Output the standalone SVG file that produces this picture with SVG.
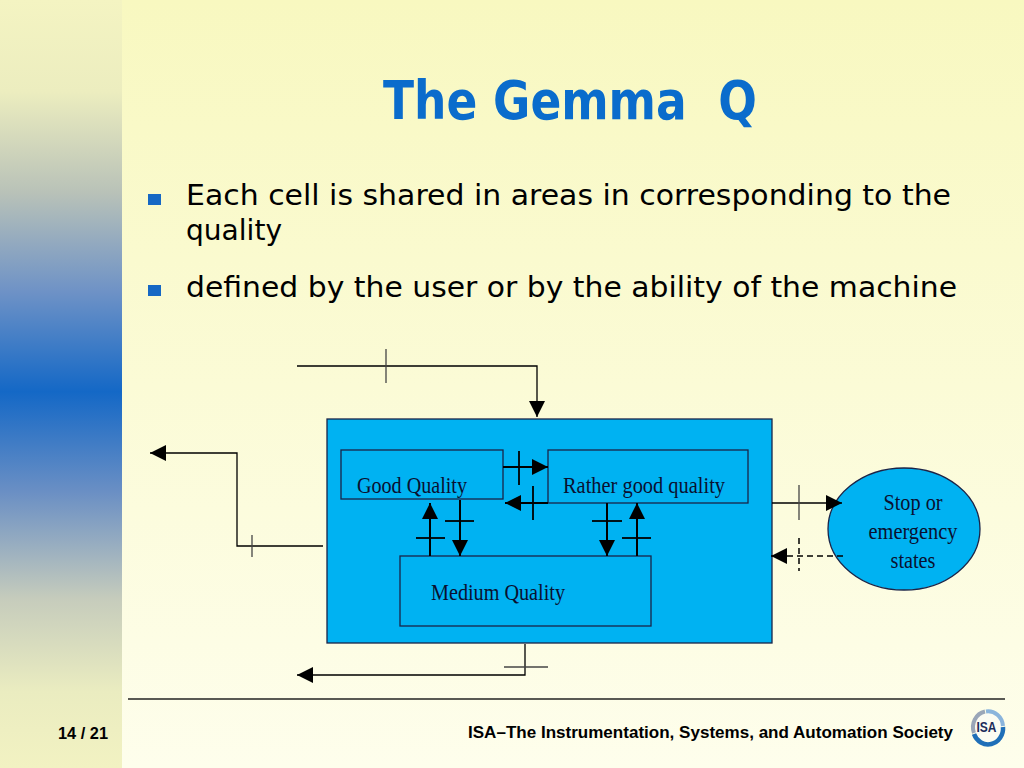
<svg xmlns="http://www.w3.org/2000/svg" width="1024" height="768" viewBox="0 0 1024 768">
<defs>
  <linearGradient id="bg" x1="0" y1="0" x2="0" y2="1">
    <stop offset="0" stop-color="#f8f8c0"/>
    <stop offset="1" stop-color="#fefeec"/>
  </linearGradient>
  <linearGradient id="strip" x1="0" y1="0" x2="0" y2="1">
    <stop offset="0" stop-color="#f4f4c2"/>
    <stop offset="0.12" stop-color="#ecedbf"/>
    <stop offset="0.25" stop-color="#b9c2b8"/>
    <stop offset="0.38" stop-color="#6e92c6"/>
    <stop offset="0.51" stop-color="#1468c6"/>
    <stop offset="0.64" stop-color="#6a8fc4"/>
    <stop offset="0.78" stop-color="#c6ccbc"/>
    <stop offset="0.9" stop-color="#eaecc0"/>
    <stop offset="1" stop-color="#f2f2c2"/>
  </linearGradient>
  <marker id="ah" viewBox="0 0 16 16" refX="16" refY="8" markerWidth="16" markerHeight="16" markerUnits="userSpaceOnUse" orient="auto">
    <path d="M0,0 L16,8 L0,16 z" fill="#000"/>
  </marker>
</defs>
<style>
  .title{font-family:"DejaVu Sans","Liberation Sans",sans-serif;font-weight:bold;font-size:53px;fill:#0a6ccc;white-space:pre}
  .bul{font-family:"DejaVu Sans","Liberation Sans",sans-serif;font-size:29px;fill:#000}
  .lbl{font-family:"Liberation Serif","Times New Roman",serif;font-size:23px;fill:#0a1030}
  .foot{font-family:"Liberation Sans",Arial,sans-serif;font-weight:bold;font-size:16.5px;fill:#000}
  .box{fill:#00b2f2;stroke:#1a2448;stroke-width:1.3}
  .wire{fill:none;stroke:#000;stroke-width:1.3}
  .in{fill:none;stroke:#000;stroke-width:2}
  .tick{fill:none;stroke:#444;stroke-width:1.3}
  .tk{fill:none;stroke:#000;stroke-width:1.8}
  .dash{fill:none;stroke:#000;stroke-width:1.5;stroke-dasharray:6,4}
</style>

<rect x="0" y="0" width="1024" height="768" fill="url(#bg)"/>
<rect x="0" y="0" width="122" height="768" fill="url(#strip)"/>

<text class="title" x="383" y="119" textLength="374" lengthAdjust="spacingAndGlyphs" xml:space="preserve">The Gemma  Q</text>

<rect x="148" y="194" width="13" height="11" fill="#1668c4"/>
<text class="bul" x="186" y="205" textLength="765" lengthAdjust="spacingAndGlyphs">Each cell is shared in areas in corresponding to the</text>
<text class="bul" x="186" y="240" textLength="96" lengthAdjust="spacingAndGlyphs">quality</text>
<rect x="148" y="285" width="13" height="11" fill="#1668c4"/>
<text class="bul" x="186" y="297" textLength="771" lengthAdjust="spacingAndGlyphs">defined by the user or by the ability of the machine</text>

<g id="main">
  <rect class="box" x="327" y="419" width="445" height="224"/>
</g>
<g id="good">
  <rect class="box" x="341" y="450" width="162" height="49"/>
  <text class="lbl" x="357" y="493" textLength="110" lengthAdjust="spacingAndGlyphs">Good Quality</text>
</g>
<g id="rather">
  <rect class="box" x="548" y="450" width="200" height="53"/>
  <text class="lbl" x="563" y="493" textLength="162" lengthAdjust="spacingAndGlyphs">Rather good quality</text>
</g>
<g id="medium">
  <rect class="box" x="400" y="556" width="251" height="70"/>
  <text class="lbl" x="431" y="600" textLength="134" lengthAdjust="spacingAndGlyphs">Medium Quality</text>
</g>
<g id="stop">
  <ellipse class="box" cx="904" cy="529" rx="76" ry="61"/>
  <text class="lbl" x="913" y="510" text-anchor="middle" textLength="59" lengthAdjust="spacingAndGlyphs">Stop or</text>
  <text class="lbl" x="913" y="539" text-anchor="middle" textLength="89" lengthAdjust="spacingAndGlyphs">emergency</text>
  <text class="lbl" x="913" y="568" text-anchor="middle" textLength="45" lengthAdjust="spacingAndGlyphs">states</text>
</g>

<g id="connectors">
  <path class="wire" d="M297,366 H537 V417" marker-end="url(#ah)"/>
  <line class="tick" x1="386" y1="349" x2="386" y2="383"/>
  <path class="wire" d="M323,546 H237 V453 H150" marker-end="url(#ah)"/>
  <line class="tick" x1="252" y1="535" x2="252" y2="557"/>
  <path class="wire" d="M525,644 V675 H297" marker-end="url(#ah)"/>
  <line class="tick" x1="504" y1="667" x2="548" y2="667"/>
  <path class="in" d="M503,467 H548" marker-end="url(#ah)"/>
  <line class="tk" x1="519" y1="451" x2="519" y2="485"/>
  <path class="in" d="M548,503 H505" marker-end="url(#ah)"/>
  <line class="tk" x1="533" y1="486" x2="533" y2="520"/>
  <path class="in" d="M430,556 V503" marker-end="url(#ah)"/>
  <line class="tk" x1="416" y1="538" x2="445" y2="538"/>
  <path class="in" d="M460,500 V556" marker-end="url(#ah)"/>
  <line class="tk" x1="445" y1="521" x2="474" y2="521"/>
  <path class="in" d="M607,503 V556" marker-end="url(#ah)"/>
  <line class="tk" x1="592" y1="521" x2="622" y2="521"/>
  <path class="in" d="M637,556 V503" marker-end="url(#ah)"/>
  <line class="tk" x1="622" y1="538" x2="651" y2="538"/>
  <path class="wire" d="M772,503 H842" marker-end="url(#ah)"/>
  <line class="tick" x1="799" y1="485" x2="799" y2="520"/>
  <path class="dash" d="M843,556 H771" marker-end="url(#ah)"/>
  <line class="dash" x1="799" y1="538" x2="799" y2="571"/>
</g>

<line x1="128" y1="699" x2="1005" y2="699" stroke="#222" stroke-width="1.5"/>
<text class="foot" x="58" y="739" textLength="50" lengthAdjust="spacingAndGlyphs">14 / 21</text>
<text class="foot" x="468" y="738" textLength="485" lengthAdjust="spacingAndGlyphs">ISA–The Instrumentation, Systems, and Automation Society</text>

<g id="logo">
  <ellipse cx="988" cy="727" rx="14" ry="14.5" fill="#fbfbf2"/>
  <path d="M974,733 A15,16 0 0 1 985,711.5" fill="none" stroke="#9aa6b8" stroke-width="4"/>
  <path d="M986,711.5 A15,16 0 0 1 1003,726" fill="none" stroke="#8ab4dc" stroke-width="4"/>
  <path d="M1003,727 A15,16 0 0 1 974,734" fill="none" stroke="#1f6fb8" stroke-width="4.5"/>
  <text x="986.5" y="732" text-anchor="middle" font-family="Liberation Sans, Arial, sans-serif" font-weight="bold" font-size="14" fill="#1a2a5a" textLength="20" lengthAdjust="spacingAndGlyphs">ISA</text>
</g>
</svg>
